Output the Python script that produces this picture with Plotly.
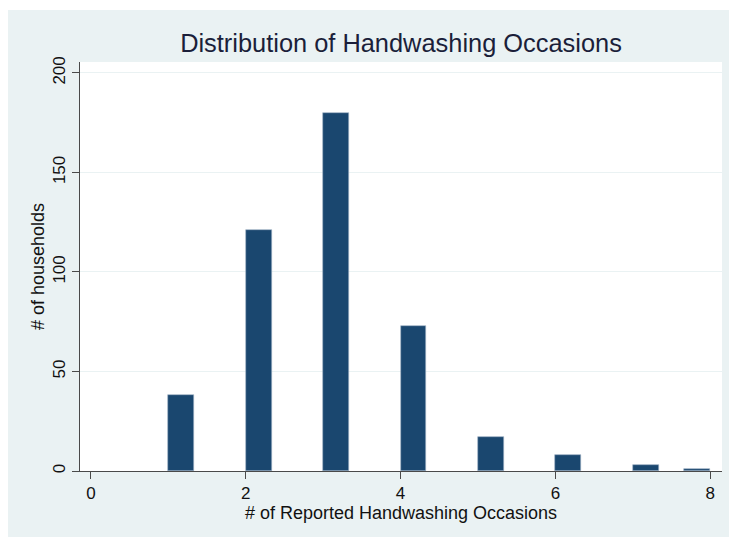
import numpy as np
import plotly.graph_objects as go

# Data
occasions = [1, 2, 3, 4, 5, 6, 7, 8]
households = [38, 121, 180, 73, 17, 8, 3, 1]
x_ticks = [0, 2, 4, 6, 8]
y_ticks = [0, 50, 100, 150, 200]
n_bins = 21  # Stata-style bins spanning min..max

vmin, vmax = min(occasions), max(occasions)
bin_w = (vmax - vmin) / n_bins
idx = [min(int(np.floor((v - vmin) / bin_w + 1e-9)), n_bins - 1) for v in occasions]
centers = [vmin + (i + 0.5) * bin_w for i in idx]

W, H = 737, 537
OFF = 8  # page body margin offset
ml, mt = 80 - OFF, 62 - OFF
pw, ph = 642, 409
mr = W - ml - pw
mb = H - mt - ph

BG = "#eaf2f3"
BAR = "#1a476f"
AX = "#4a4a4a"
FONT = "Liberation Sans, Arial, sans-serif"

fig = go.Figure()
fig.add_trace(go.Bar(
    x=centers, y=households, width=bin_w,
    marker=dict(color=BAR, line=dict(color="#9fb2c4", width=0.6)),
    hoverinfo="x+y",
))

shapes = [
    # outer light background (white strip at the top)
    dict(type="rect", xref="paper", yref="paper", layer="below",
         x0=(0 - ml) / pw, x1=(W - ml) / pw,
         y0=(ph + mt - H) / ph, y1=(ph + mt - 2) / ph,
         fillcolor=BG, line=dict(width=0)),
    # white plot region
    dict(type="rect", xref="x domain", yref="y domain", layer="below",
         x0=0, x1=1, y0=0, y1=1, fillcolor="white", line=dict(width=0)),
]

fig.update_layout(
    width=W, height=H,
    margin=dict(l=ml, r=mr, t=mt, b=mb, pad=0),
    paper_bgcolor="white", plot_bgcolor="white",
    shapes=shapes,
    showlegend=False,
    bargap=0,
    font=dict(family=FONT, color="#111111"),
    title=dict(text="Distribution of Handwashing Occasions",
               x=(ml + pw / 2) / W, xanchor="center",
               y=1 - 44 / H, yanchor="bottom",
               font=dict(size=25.4, color="#1b1f3a", family=FONT)),
    xaxis=dict(
        range=[-0.142, 8.153], tickvals=x_ticks,
        showgrid=False, zeroline=False,
        showline=True, linecolor=AX, linewidth=1,
        ticks="outside", ticklen=7, tickcolor=AX, tickwidth=1,
        tickfont=dict(size=17, color="#111111"),
        title=dict(text="# of Reported Handwashing Occasions",
                   font=dict(size=18, color="#111111"), standoff=2),
    ),
    yaxis=dict(
        range=[0, 205.5], tickvals=y_ticks,
        showgrid=True, gridcolor=BG, gridwidth=1,
        zeroline=False,
        showline=True, linecolor=AX, linewidth=1,
        ticks="outside", ticklen=7, tickcolor=AX, tickwidth=1,
        tickangle=-90,
        tickfont=dict(size=17, color="#111111"),
        title=dict(text="# of households",
                   font=dict(size=18, color="#111111"), standoff=0),
    ),
)

fig.write_html("out.html")
